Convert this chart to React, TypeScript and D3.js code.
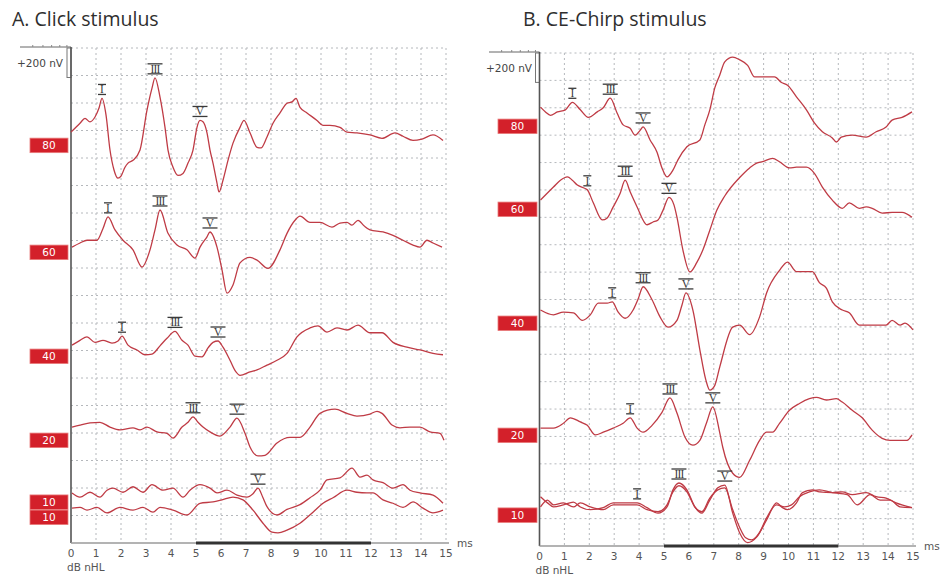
import React from 'react';
import * as d3 from 'd3';

type Pt = [number, number];

// ---------- DATA ----------
const timeTicks = d3.range(0, 16);
const gridNV = d3.range(0, 3601, 200);

// Panel A: click stimulus (time ms, amplitude nV relative to trace baseline)
const clickLevels = ['80', '60', '40', '20', '10', '10'];
const clickOffsets = [2988, 2152, 1454, 843, 364, 254];

const click80: Pt[] = [
  [0, 0], [0.36, 65], [0.56, 100], [0.76, 75], [0.96, 110], [1.12, 175], [1.24, 245], [1.4, 125],
  [1.56, -130], [1.72, -275], [1.88, -335], [2.0, -320], [2.16, -255], [2.28, -225], [2.48, -205],
  [2.76, -130], [3.04, 160], [3.24, 320], [3.36, 395], [3.56, 255], [3.76, 35], [3.88, -130],
  [4.08, -255], [4.28, -315], [4.48, -300], [4.68, -225], [4.88, -130], [5.04, 35], [5.16, 85],
  [5.28, 75], [5.44, -5], [5.56, -130], [5.68, -225], [5.84, -370], [5.92, -435], [6.08, -350],
  [6.28, -205], [6.48, -80], [6.76, 35], [6.92, 85], [7.16, -5], [7.44, -110], [7.6, -115],
  [7.84, -35], [8.08, 65], [8.36, 140], [8.64, 210], [8.84, 220], [9.0, 245], [9.16, 180],
  [9.44, 140], [9.84, 85], [10.08, 50], [10.36, 50], [10.76, 35], [11.04, 0], [11.44, -5],
  [11.96, -20], [12.44, -45], [12.96, -5], [13.28, -30], [13.68, -60], [14.04, -50], [14.48, -20],
  [14.88, -60],
];
const click60: Pt[] = [
  [0.04, 0], [0.36, 30], [0.64, 50], [1.04, 50], [1.28, 135], [1.48, 220], [1.76, 125], [2.08, 50],
  [2.48, -20], [2.84, -145], [3.16, -20], [3.36, 125], [3.56, 270], [3.88, 100], [4.24, 15],
  [4.64, -20], [4.96, -80], [5.16, 0], [5.44, 75], [5.56, 110], [5.84, 0], [6.04, -165],
  [6.24, -335], [6.48, -275], [6.76, -115], [7.16, -75], [7.44, -95], [7.88, -155], [8.36, -20],
  [8.64, 100], [8.96, 195], [9.16, 225], [9.56, 180], [9.96, 180], [10.44, 145], [10.76, 175],
  [11.04, 180], [11.24, 160], [11.48, 195], [11.72, 155], [11.96, 125], [12.48, 110], [12.88, 85],
  [13.28, 50], [13.68, 15], [13.96, 0], [14.24, 50], [14.48, 30], [14.84, 0],
];
const click40: Pt[] = [
  [0.04, -15], [0.36, 20], [0.64, 45], [0.96, 5], [1.28, 20], [1.64, 0], [1.88, 15], [2.04, 50],
  [2.28, -15], [2.64, -50], [2.96, -85], [3.24, -80], [3.56, -20], [3.84, 35], [4.16, 85],
  [4.44, 20], [4.68, -15], [4.96, -95], [5.24, -100], [5.48, -35], [5.68, 5], [5.88, 15],
  [6.08, -30], [6.36, -125], [6.6, -210], [6.76, -235], [7.16, -210], [7.44, -195], [7.84, -160],
  [8.24, -125], [8.64, -75], [9.04, 45], [9.56, 110], [9.88, 125], [10.24, 80], [10.64, 110],
  [11.04, 95], [11.48, 130], [11.96, 75], [12.44, 75], [12.88, 5], [13.44, -30], [13.96, -50],
  [14.48, -75], [14.88, -85],
];
const click20: Pt[] = [
  [0.04, 0], [0.36, 15], [0.76, 30], [1.16, 35], [1.56, 0], [1.96, -20], [2.48, -5], [2.76, -20],
  [3.04, 0], [3.44, -35], [3.84, -45], [4.08, -80], [4.44, 0], [4.68, 35], [4.88, 75], [5.08, 35],
  [5.28, 0], [5.56, -35], [5.96, -65], [6.36, 0], [6.64, 65], [6.96, -45], [7.16, -145],
  [7.48, -210], [7.76, -205], [8.24, -115], [8.76, -75], [9.16, -75], [9.56, 0], [9.96, 100],
  [10.56, 130], [11.04, 100], [11.44, 80], [11.96, 95], [12.24, 115], [12.44, 100], [12.84, 15],
  [13.16, -5], [13.56, 0], [13.96, 0], [14.36, -35], [14.76, -45], [14.92, -95],
];
const click10a: Pt[] = [
  [0.04, 0], [0.36, -30], [0.76, 5], [1.16, -30], [1.44, 20], [1.68, 35], [2.08, 5], [2.48, 45],
  [2.88, 5], [3.24, 60], [3.68, 20], [4.08, 35], [4.48, -30], [4.76, 20], [5.16, 60], [5.56, 35],
  [5.84, 0], [6.24, 20], [6.64, -15], [7.04, -30], [7.28, -5], [7.48, 35], [7.68, -35],
  [7.84, -100], [8.24, -160], [8.64, -120], [9.16, -85], [9.56, -35], [9.96, 20], [10.24, 95],
  [10.76, 110], [11.24, 180], [11.56, 115], [11.84, 130], [12.08, 95], [12.48, 75], [12.88, 35],
  [13.28, 60], [13.56, 20], [13.96, 0], [14.48, -15], [14.88, -75],
];
const click10b: Pt[] = [
  [0.04, 0], [0.36, 5], [0.64, -15], [1.04, 5], [1.44, -35], [1.96, 5], [2.48, -15], [2.88, 5],
  [3.28, -30], [3.56, 5], [4.08, -15], [4.64, -50], [5.16, 35], [5.68, 45], [6.04, 60], [6.48, 80],
  [6.88, 60], [7.28, -15], [7.68, -110], [8.04, -175], [8.28, -180], [8.64, -160], [9.16, -110],
  [9.68, -30], [10.08, 35], [10.48, 75], [11.04, 130], [11.44, 115], [11.84, 110], [12.08, 110],
  [12.48, 60], [12.88, 35], [13.28, 5], [13.68, 45], [14.08, 0], [14.48, -35], [14.88, -15],
];
const clickWaves = [
  { name: 'I', t: [1.24, 1.48, 2.04, null, null, null] },
  { name: 'III', t: [3.36, 3.56, 4.16, 4.88, null, null] },
  { name: 'V', t: [5.16, 5.56, 5.88, 6.64, 7.48, null] },
];

// Panel B: CE-Chirp stimulus
const chirpLevels = ['80', '60', '40', '20', '10', ''];
const chirpOffsets = [3205, 2526, 1723, 861, 300, 300];

const chirp80: Pt[] = [
  [0.04, 0], [0.24, -35], [0.44, -60], [0.72, -35], [1.04, -20], [1.32, 35], [1.64, -20],
  [1.96, -75], [2.32, -35], [2.56, -5], [2.84, 65], [3.12, -45], [3.36, -130], [3.64, -155],
  [3.84, -205], [4.04, -170], [4.16, -145], [4.44, -240], [4.72, -330], [4.92, -445], [5.12, -510],
  [5.36, -460], [5.56, -385], [5.92, -290], [6.44, -240], [6.64, -130], [6.84, -20], [7.04, 140],
  [7.24, 235], [7.44, 330], [7.76, 365], [8.04, 345], [8.36, 305], [8.64, 220], [8.96, 220],
  [9.44, 220], [9.72, 180], [9.96, 160], [10.32, 75], [10.72, -20], [11.04, -115], [11.36, -180],
  [11.76, -225], [11.92, -255], [12.12, -220], [12.56, -205], [13.12, -220], [13.52, -180],
  [13.92, -145], [14.16, -95], [14.56, -75], [14.96, -35],
];
const chirp60: Pt[] = [
  [0.04, 0], [0.56, 95], [0.84, 145], [1.12, 170], [1.32, 145], [1.52, 110], [1.76, 90], [1.92, 75],
  [2.16, -20], [2.52, -145], [2.72, -130], [2.96, -50], [3.24, 50], [3.44, 145], [3.64, 60],
  [3.92, -50], [4.32, -180], [4.56, -160], [4.76, -145], [4.96, -75], [5.2, 20], [5.4, -35],
  [5.52, -125], [5.76, -365], [6.04, -525], [6.32, -455], [6.56, -365], [6.84, -220], [7.12, -75],
  [7.44, 30], [8.04, 165], [8.44, 235], [8.72, 270], [8.96, 280], [9.36, 305], [9.64, 280],
  [10.04, 235], [10.32, 240], [10.72, 240], [11.04, 195], [11.36, 95], [11.76, 0], [12.16, -60],
  [12.44, -20], [12.84, -60], [13.12, -50], [13.36, -60], [13.76, -95], [14.16, -90], [14.56, -90],
  [14.96, -125],
];
const chirp40: Pt[] = [
  [0.04, 0], [0.56, -35], [0.96, -15], [1.36, -20], [1.72, -75], [2.04, -35], [2.36, 50], [2.72, 50],
  [2.92, 60], [3.16, -15], [3.44, -60], [3.76, 0], [3.96, 80], [4.16, 170], [4.52, 75], [4.84, -50],
  [5.16, -125], [5.52, -75], [5.72, 35], [5.88, 125], [6.16, 0], [6.44, -290], [6.68, -510],
  [6.84, -585], [7.04, -550], [7.24, -415], [7.76, -125], [8.04, -110], [8.44, -180], [8.84, -50],
  [9.12, 125], [9.64, 290], [9.96, 350], [10.32, 280], [10.72, 280], [10.96, 280], [11.24, 200],
  [11.52, 160], [11.76, 60], [12.16, 0], [12.44, -20], [12.84, -110], [13.36, -110], [13.92, -110],
  [14.16, -75], [14.48, -110], [14.68, -95], [15.0, -145],
];
const chirp20: Pt[] = [
  [0.04, 0], [0.56, 0], [0.96, 35], [1.24, 75], [1.64, 45], [1.92, 20], [2.24, -50], [2.56, -30],
  [2.96, 0], [3.36, 35], [3.64, 75], [3.92, 0], [4.16, -30], [4.52, 20], [4.92, 115], [5.24, 220],
  [5.52, 110], [5.84, -65], [6.16, -125], [6.44, -90], [6.72, 45], [6.96, 155], [7.24, -35],
  [7.36, -140], [7.76, -330], [8.04, -360], [8.44, -235], [8.84, -90], [9.12, -30], [9.36, -30],
  [9.64, 35], [10.04, 130], [10.44, 180], [10.84, 215], [11.12, 225], [11.52, 205], [11.92, 215],
  [12.16, 190], [12.56, 130], [12.96, 75], [13.36, -15], [13.76, -75], [14.08, -90], [14.48, -90],
  [14.76, -90], [14.96, -50],
];
const chirp10a: Pt[] = [
  [0.04, 60], [0.32, 15], [0.56, -15], [0.96, 0], [1.36, 20], [1.64, -15], [2.04, -35], [2.56, -20],
  [2.96, 15], [3.52, 15], [3.92, 15], [4.32, -20], [4.76, -60], [5.12, -15], [5.36, 110], [5.6, 160],
  [5.92, 110], [6.24, -15], [6.52, -60], [6.84, 35], [7.16, 125], [7.44, 145], [7.76, -60],
  [8.04, -205], [8.36, -275], [8.72, -235], [9.12, -110], [9.52, 15], [9.76, -20], [9.96, -35],
  [10.32, 15], [10.56, 90], [10.96, 110], [11.24, 95], [11.76, 90], [12.16, 95], [12.56, 75],
  [13.12, 90], [13.52, 60], [13.92, 50], [14.32, 15], [14.96, -20],
];
const chirp10b: Pt[] = [
  [0.04, -15], [0.32, 35], [0.56, 0], [0.96, 15], [1.36, -15], [1.64, 15], [2.04, -15], [2.56, -35],
  [2.96, 0], [3.52, 0], [3.92, 0], [4.32, -35], [4.76, -50], [5.12, 0], [5.36, 95], [5.6, 140],
  [5.92, 95], [6.24, -15], [6.52, -50], [6.84, 50], [7.16, 110], [7.44, 125], [7.76, -35],
  [8.04, -165], [8.28, -240], [8.52, -255], [8.84, -200], [9.12, -95], [9.52, 0], [9.84, -15],
  [10.12, 0], [10.44, 60], [10.84, 95], [11.24, 110], [11.76, 90], [12.36, 75], [12.76, 0],
  [13.28, 75], [13.68, 35], [14.08, 35], [14.48, -15], [14.96, -20],
];
const chirpWaves = [
  { name: 'I', t: [1.32, 1.92, 2.92, 3.64, 3.92, null] },
  { name: 'III', t: [2.84, 3.44, 4.16, 5.24, 5.6, null] },
  { name: 'V', t: [4.16, 5.2, 5.88, 6.96, 7.44, null] },
];

const stimulusBar = [5, 12];

// ---------- LAYOUT ----------
const layoutA = {
  title: 'A. Click stimulus', titleX: 12, left: 71, top: 48, width: 375, height: 495,
  boxX: 30, boxW: 38, boxDy: [13, 5, 13, 13, 9, 9], scaleLineX: 20, labelX: 17,
};
const layoutB = {
  title: 'B. CE-Chirp stimulus', titleX: 523, left: 539.5, top: 53, width: 373.5, height: 493,
  boxX: 498, boxW: 39, boxDy: [19, 9, 13, 7, 10, 10], scaleLineX: 489, labelX: 486,
};

const TRACE = '#bf3b45';
const INK = '#3a3a3a';
const SANS = 'DejaVu Sans, Verdana, sans-serif';

function valueAt(pts: Pt[], t: number) {
  const i = d3.bisector((d: Pt) => d[0]).left(pts, t);
  if (i <= 0) return pts[0][1];
  if (i >= pts.length) return pts[pts.length - 1][1];
  const a = pts[i - 1], b = pts[i];
  return a[1] + ((b[1] - a[1]) * (t - a[0])) / (b[0] - a[0]);
}

function WaveLabel({ name, x, y }: { name: string; x: number; y: number }) {
  const w = name === 'I' ? 8 : 15;
  return (
    <g transform={`translate(${x},${y})`}>
      <line x1={-w / 2} x2={w / 2} y1={-10} y2={-10} stroke={INK} strokeWidth={1.3} />
      <line x1={-w / 2} x2={w / 2} y1={0} y2={0} stroke={INK} strokeWidth={1.3} />
      <text x={0} y={-1} textAnchor="middle" fontFamily="Liberation Serif, serif" fontSize={11.5}
        fill={INK} letterSpacing={name === 'III' ? -0.8 : 0}>{name}</text>
    </g>
  );
}

function Panel({ lay, levels, offsets, traces, waves }: any) {
  const x = d3.scaleLinear().domain([0, 15]).range([lay.left, lay.left + lay.width]);
  const y = d3.scaleLinear().domain([0, 3600]).range([lay.top + lay.height, lay.top]);
  const bottom = lay.top + lay.height;
  const line = d3.line<Pt>().x((d) => x(d[0])).y((d) => y(d[1])).curve(d3.curveMonotoneX);
  return (
    <g>
      <text x={lay.titleX} y={26} fontFamily="Open Sans, sans-serif" fontSize={19.5} fill="#2e2e2e">{lay.title}</text>
      {/* grid */}
      {gridNV.slice(1).map((v) => (
        <line key={'h' + v} x1={x(0)} x2={x(15)} y1={y(v)} y2={y(v)} stroke="#b5b8bc" strokeWidth={1} strokeDasharray="2,3" />
      ))}
      {timeTicks.slice(1).map((t) => (
        <line key={'v' + t} x1={x(t)} x2={x(t)} y1={y(3600)} y2={bottom} stroke="#b5b8bc" strokeWidth={1} strokeDasharray="2,3" />
      ))}
      {/* scale indicator */}
      <line x1={lay.scaleLineX} x2={x(0)} y1={y(3600) - 1} y2={y(3600) - 1} stroke="#666" strokeWidth={1} />
      {[0.25, 0.45, 0.62, 0.78, 0.92].map((f) => (
        <line key={f} x1={lay.scaleLineX + f * (x(0) - lay.scaleLineX)} x2={lay.scaleLineX + f * (x(0) - lay.scaleLineX)}
          y1={y(3600) - 1} y2={y(3600) - 3} stroke="#888" strokeWidth={1} />
      ))}
      <rect x={x(0) - 4} y={y(3600)} width={4} height={y(3400) - y(3600) + 2} fill="#fff" stroke="#777" strokeWidth={1} />
      <text x={lay.labelX} y={y(3600) + 19} fontFamily={SANS} fontSize={10.5} fill="#444">+200 nV</text>
      {/* axes */}
      <line x1={x(0)} x2={x(0)} y1={y(3600) - 1} y2={bottom} stroke="#555" strokeWidth={1.6} />
      <line x1={x(0)} x2={x(15) + 3} y1={bottom} y2={bottom} stroke="#9a9a9a" strokeWidth={1.5} />
      <line x1={x(stimulusBar[0])} x2={x(stimulusBar[1])} y1={bottom} y2={bottom} stroke="#333" strokeWidth={3} />
      {timeTicks.map((t) => (
        <text key={'t' + t} x={x(t)} y={bottom + 13.5} textAnchor="middle" fontFamily={SANS} fontSize={10.5} fill="#555">{t}</text>
      ))}
      <text x={x(15) + 11} y={bottom + 4} fontFamily={SANS} fontSize={10.5} fill="#555">ms</text>
      <text x={x(0) - 4} y={bottom + 28} fontFamily={SANS} fontSize={10.5} fill="#555">dB nHL</text>
      {/* level boxes */}
      {levels.map((lv: string, i: number) => lv === '' ? null : (
        <g key={'b' + i}>
          <rect x={lay.boxX} y={y(offsets[i]) + lay.boxDy[i] - 7} width={lay.boxW} height={14.5} fill="#d3202a" stroke="#e97a7a" strokeWidth={0.8} />
          <text x={lay.boxX + lay.boxW / 2} y={y(offsets[i]) + lay.boxDy[i] + 4} textAnchor="middle" fontFamily={SANS} fontSize={10.5} fill="#fff">{lv}</text>
        </g>
      ))}
      {/* traces */}
      {traces.map((pts: Pt[], i: number) => (
        <path key={'p' + i} d={line(pts.map((p) => [p[0], p[1] + offsets[i]] as Pt)) || ''} fill="none" stroke={TRACE} strokeWidth={1.3} strokeLinejoin="round" />
      ))}
      {/* wave labels */}
      {waves.map((w: any) => w.t.map((t: number | null, i: number) => t == null ? null : (
        <WaveLabel key={w.name + i} name={w.name} x={x(t)} y={y(offsets[i] + valueAt(traces[i], t)) - 4} />
      )))}
    </g>
  );
}

export default function App() {
  return (
    <svg width={948} height={578} style={{ position: 'absolute', left: 0, top: 0, background: '#fff' }}>
      <rect width={948} height={578} fill="#fff" />
      <Panel lay={layoutA} levels={clickLevels} offsets={clickOffsets}
        traces={[click80, click60, click40, click20, click10a, click10b]} waves={clickWaves} />
      <Panel lay={layoutB} levels={chirpLevels} offsets={chirpOffsets}
        traces={[chirp80, chirp60, chirp40, chirp20, chirp10a, chirp10b]} waves={chirpWaves} />
    </svg>
  );
}
